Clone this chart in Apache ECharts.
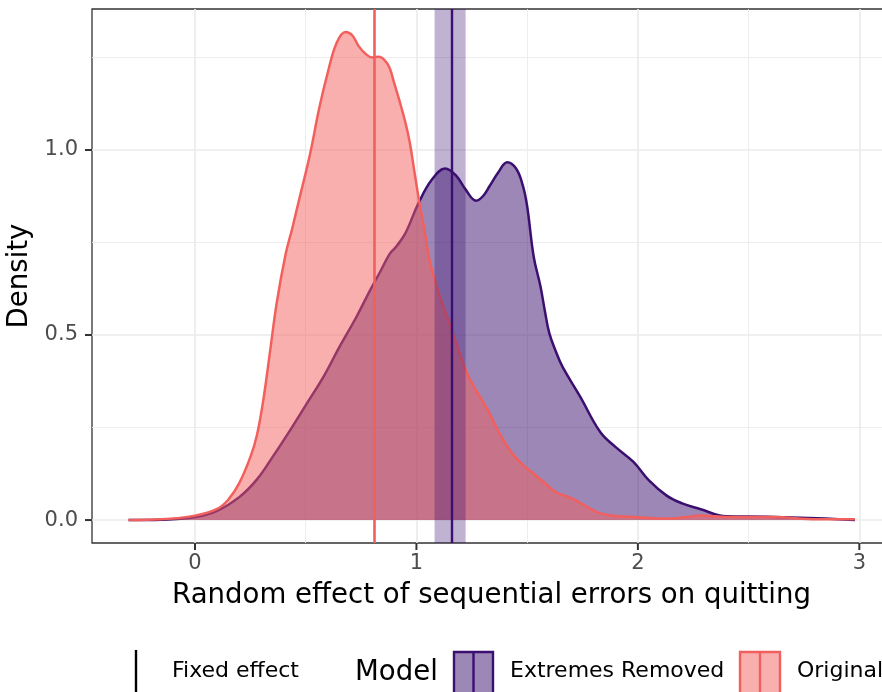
<!DOCTYPE html>
<html>
<head>
<meta charset="utf-8">
<script src="https://cdn.jsdelivr.net/npm/echarts@6/dist/echarts.min.js"></script>
<style>html,body{margin:0;padding:0;background:#fff}#c{width:882px;height:692px}</style>
</head>
<body>
<div id="c"></div>
<script>
// ---- data ----
const originalX = [-0.30,-0.15,0.00,0.10,0.15,0.20,0.25,0.28,0.31,0.34,0.37,0.41,0.44,0.47,0.52,0.56,0.60,0.64,0.68,0.71,0.74,0.77,0.80,0.83,0.86,0.88,0.90,0.92,0.95,0.97,0.99,1.01,1.04,1.06,1.10,1.15,1.19,1.23,1.27,1.32,1.37,1.42,1.47,1.53,1.58,1.63,1.68,1.72,1.78,1.83,1.90,1.98,2.13,2.22,2.28,2.35,2.43,2.61,2.81,2.98];
const originalY = [0.000,0.002,0.012,0.030,0.055,0.100,0.170,0.230,0.330,0.460,0.590,0.720,0.790,0.865,0.990,1.110,1.210,1.290,1.319,1.310,1.280,1.260,1.250,1.252,1.240,1.220,1.180,1.140,1.075,1.020,0.945,0.870,0.770,0.700,0.615,0.530,0.460,0.395,0.350,0.300,0.240,0.190,0.155,0.125,0.100,0.075,0.064,0.053,0.032,0.018,0.011,0.008,0.004,0.008,0.012,0.010,0.008,0.008,0.002,0.002];
const extremesX = [-0.30,-0.15,0.00,0.10,0.20,0.28,0.35,0.43,0.50,0.58,0.65,0.73,0.79,0.84,0.88,0.91,0.95,1.01,1.07,1.13,1.18,1.22,1.27,1.30,1.33,1.37,1.41,1.45,1.48,1.50,1.53,1.56,1.58,1.60,1.63,1.66,1.74,1.83,1.90,1.98,2.05,2.13,2.20,2.28,2.40,2.58,2.81,2.98];
const extremesY = [0.000,0.001,0.008,0.025,0.062,0.110,0.170,0.243,0.310,0.387,0.465,0.550,0.620,0.675,0.720,0.740,0.775,0.857,0.920,0.950,0.930,0.895,0.863,0.875,0.902,0.940,0.967,0.950,0.905,0.848,0.710,0.632,0.565,0.505,0.455,0.414,0.333,0.238,0.197,0.157,0.107,0.066,0.045,0.030,0.010,0.009,0.005,0.000];
const fixedOriginal = 0.807;
const fixedExtremes = 1.155;
const extremesCI = [1.082, 1.222];
const xTicks = [0, 1, 2, 3];
const xMinorTicks = [0.5, 1.5, 2.5];
const yTicks = [0, 0.5, 1.0];
const yMinorTicks = [0.25, 0.75, 1.25];
const xLimits = [-0.465, 3.143];
const yLimits = [-0.062, 1.381];
const seriesNames = ['Extremes Removed', 'Original'];
const xTitle = 'Random effect of sequential errors on quitting';
const yTitle = 'Density';

// ---- styles ----
const PURPLE = '#3B0F70', RED = '#F1605D';
const FONT = 'DejaVu Sans';
const TICK_LEN = 7;
const zip = (xs, ys) => xs.map((x, i) => [x, ys[i]]);
const gl = (key, v, w) => ({[key]: v, lineStyle: {color: '#EBEBEB', width: w, type: 'solid'}});

const gridLines = []
  .concat(xTicks.map(v => gl('xAxis', v, 1.7)))
  .concat(xMinorTicks.map(v => gl('xAxis', v, 0.9)))
  .concat(yTicks.map(v => gl('yAxis', v, 1.7)))
  .concat(yMinorTicks.map(v => gl('yAxis', v, 0.9)));

const legendGraphics = [
  {type: 'line', shape: {x1: 136, y1: 650, x2: 136, y2: 692}, style: {stroke: '#000', lineWidth: 2.4}},
  {type: 'text', left: 172, top: 660, style: {text: 'Fixed effect', font: '22px "DejaVu Sans"', fill: '#000'}},
  {type: 'text', left: 355, top: 659, style: {text: 'Model', font: '27.6px "DejaVu Sans"', fill: '#000'}},
  {type: 'rect', shape: {x: 454, y: 652, width: 39, height: 50}, style: {fill: 'rgba(59,15,112,0.5)', stroke: PURPLE, lineWidth: 2.4}},
  {type: 'line', shape: {x1: 473.5, y1: 652, x2: 473.5, y2: 692}, style: {stroke: PURPLE, lineWidth: 2.4}},
  {type: 'text', left: 510, top: 660, style: {text: 'Extremes Removed', font: '22px "DejaVu Sans"', fill: '#000'}},
  {type: 'rect', shape: {x: 740, y: 652, width: 40, height: 50}, style: {fill: 'rgba(241,96,93,0.5)', stroke: RED, lineWidth: 2.4}},
  {type: 'line', shape: {x1: 760, y1: 652, x2: 760, y2: 692}, style: {stroke: RED, lineWidth: 2.4}},
  {type: 'text', left: 797, top: 660, style: {text: 'Original', font: '22px "DejaVu Sans"', fill: '#000'}}
];

const chart = echarts.init(document.getElementById('c'), null, {renderer: 'canvas'});
chart.setOption({
  animation: false,
  backgroundColor: '#fff',
  grid: {left: 92, right: -9, top: 9, bottom: 149, outerBoundsMode: 'none', containLabel: false,
         show: true, borderColor: '#333', borderWidth: 1.3, backgroundColor: 'transparent'},
  xAxis: {
    type: 'value', min: xLimits[0], max: xLimits[1],
    axisLine: {show: false, onZero: false},
    splitLine: {show: false},
    axisTick: {show: false},
    axisLabel: {customValues: xTicks, color: '#4D4D4D', fontFamily: FONT, fontSize: 21, margin: 10, formatter: v => String(Math.round(v))},
    name: xTitle, nameLocation: 'middle', nameGap: 39,
    nameTextStyle: {color: '#000', fontFamily: FONT, fontSize: 27.6}
  },
  yAxis: {
    type: 'value', min: yLimits[0], max: yLimits[1],
    axisLine: {show: false, onZero: false},
    splitLine: {show: false},
    axisTick: {show: false},
    axisLabel: {customValues: yTicks, color: '#4D4D4D', fontFamily: FONT, fontSize: 21, margin: 14, formatter: v => v.toFixed(1)},
    name: yTitle, nameLocation: 'middle', nameGap: 50, nameRotate: 90,
    nameTextStyle: {color: '#000', fontFamily: FONT, fontSize: 27.6}
  },
  series: [
    {type: 'line', data: [], z: 1, silent: true,
     markLine: {z: 1, silent: true, symbol: ['none', 'none'], label: {show: false}, animation: false, data: gridLines}},
    {name: seriesNames[0], type: 'line', data: zip(extremesX, extremesY), z: 2, smooth: 0.4, showSymbol: false, silent: true,
     lineStyle: {color: PURPLE, width: 2.5}, itemStyle: {color: PURPLE},
     areaStyle: {color: PURPLE, opacity: 0.5}},
    {name: seriesNames[1], type: 'line', data: zip(originalX, originalY), z: 3, smooth: 0.4, showSymbol: false, silent: true,
     lineStyle: {color: RED, width: 2.5}, itemStyle: {color: RED},
     areaStyle: {color: RED, opacity: 0.5}},
    {type: 'line', data: [], z: 4, silent: true,
     markArea: {z: 4, silent: true, itemStyle: {color: PURPLE, opacity: 0.32},
       data: [[{xAxis: extremesCI[0]}, {xAxis: extremesCI[1]}]]},
     markLine: {z: 5, silent: true, symbol: ['none', 'none'], label: {show: false}, animation: false,
       data: [
         {xAxis: fixedOriginal, lineStyle: {color: RED, width: 2.6, type: 'solid'}},
         {xAxis: fixedExtremes, lineStyle: {color: PURPLE, width: 2.4, type: 'solid'}}
       ]}}
  ],
  graphic: legendGraphics
});

// axis ticks, positioned through the chart's own scales
const tickGraphics = [];
xTicks.forEach(v => {
  const p = chart.convertToPixel({gridIndex: 0}, [v, yLimits[0]]);
  tickGraphics.push({type: 'line', shape: {x1: p[0], y1: p[1], x2: p[0], y2: p[1] + TICK_LEN}, style: {stroke: '#333', lineWidth: 2}});
});
yTicks.forEach(v => {
  const p = chart.convertToPixel({gridIndex: 0}, [xLimits[0], v]);
  tickGraphics.push({type: 'line', shape: {x1: p[0] - TICK_LEN, y1: p[1], x2: p[0], y2: p[1]}, style: {stroke: '#333', lineWidth: 2}});
});
chart.setOption({graphic: legendGraphics.concat(tickGraphics)});
</script>
</body>
</html>
